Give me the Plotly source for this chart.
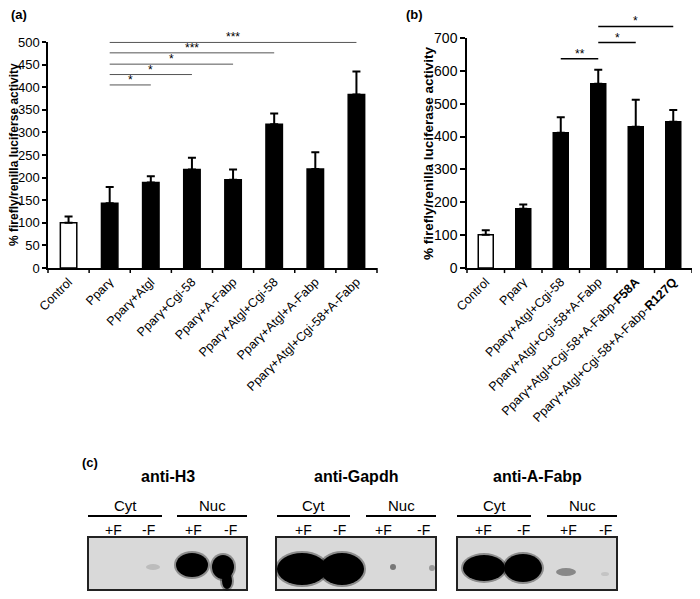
import plotly.graph_objects as go

# panel (a) data
cats_a = ["Control", "Pparγ", "Pparγ+Atgl", "Pparγ+Cgi-58", "Pparγ+A-Fabp",
          "Pparγ+Atgl+Cgi-58", "Pparγ+Atgl+A-Fabp", "Pparγ+Atgl+Cgi-58+A-Fabp"]
vals_a = [100, 143, 189, 218, 195, 318, 219, 384]
err_a = [14, 36, 14, 26, 23, 24, 37, 51]
sig_a = [(1, 2, 405, "*"), (1, 3, 428, "*"), (1, 4, 451, "*"),
         (1, 5, 476, "***"), (1, 7, 499, "***")]

# panel (b) data
cats_b = ["Control", "Pparγ", "Pparγ+Atgl+Cgi-58", "Pparγ+Atgl+Cgi-58+A-Fabp",
          "Pparγ+Atgl+Cgi-58+A-Fabp-<b>F58A</b>",
          "Pparγ+Atgl+Cgi-58+A-Fabp-<b>R127Q</b>"]
vals_b = [101, 180, 412, 561, 430, 445]
err_b = [14, 13, 47, 42, 82, 36]
sig_b = [(2, 3, 637, "**"), (3, 4, 686, "*"), (3, 5, 735, "*")]

# the page body has an 8px margin, so the figure is drawn 16px smaller
OFF = 8
W, H = 700 - 2 * OFF, 599 - 2 * OFF
FONT = "Arial, Liberation Sans, sans-serif"


def px(x):
    return min(1.0, max(0.0, (x - OFF) / W))


def py(y):
    return min(1.0, max(0.0, 1 - (y - OFF) / H))


def label(text, x, y, size, **kw):
    fig.add_annotation(text=text, xref="paper", yref="paper", x=px(x), y=py(y),
                       xanchor=kw.pop("xanchor", "center"), yanchor="middle",
                       showarrow=False, font=dict(family=FONT, size=size, color="black"),
                       **kw)


fig = go.Figure()

for cats, vals, errs, xa, ya in [(cats_a, vals_a, err_a, "x", "y"),
                                 (cats_b, vals_b, err_b, "x2", "y2")]:
    fig.add_trace(go.Bar(
        x=list(range(len(cats))), y=vals, xaxis=xa, yaxis=ya,
        marker=dict(color=["white"] + ["black"] * (len(cats) - 1),
                    line=dict(color="black", width=1.5)),
        error_y=dict(type="data", array=errs, arrayminus=[0] * len(cats),
                     symmetric=False, color="black", thickness=2, width=4),
        width=0.4, showlegend=False, hoverinfo="skip"))

axis_common = dict(showline=True, linecolor="black", linewidth=1.5,
                   ticks="outside", ticklen=5, tickwidth=1.5, tickcolor="black",
                   showgrid=False, zeroline=False, automargin=False,
                   tickfont=dict(family=FONT, size=14, color="black"))
xfont = dict(family=FONT, size=12.5, color="black")

fig.update_layout(
    width=W, height=H, margin=dict(l=0, r=0, t=0, b=0, autoexpand=False),
    plot_bgcolor="white", paper_bgcolor="white",
    font=dict(family=FONT, color="black"),
    xaxis=dict(axis_common, domain=[px(48), px(377)], range=[-0.5, 7.5],
               tickmode="array", tickvals=list(range(8)), ticktext=cats_a,
               tickangle=-45, tickfont=xfont, anchor="y", ticks=""),
    yaxis=dict(axis_common, domain=[py(268), py(42)], range=[0, 500], dtick=50,
               anchor="x", ticklen=4, tickfont=dict(family=FONT, size=13, color="black")),
    xaxis2=dict(axis_common, domain=[px(467), px(692)], range=[-0.5, 5.5],
                tickmode="array", tickvals=list(range(6)), ticktext=cats_b,
                tickangle=-45, tickfont=xfont, anchor="y2", ticks=""),
    yaxis2=dict(axis_common, domain=[py(268), py(38)], range=[0, 700], dtick=100,
                anchor="x2"),
)

# y-axis titles
label("<b>% firefly/renilla luciferse activity</b>", 14, 155, 12, textangle=-90)
label("<b>% firefly/renilla luciferase activity</b>", 428, 153, 13.5, textangle=-90)

# boundary tick marks between categories
for xa, ya, n in [("x", "y", 8), ("x2", "y2", 6)]:
    for i in range(n + 1):
        fig.add_shape(type="line", xref=xa + " domain", yref=ya + " domain",
                      x0=i / n, x1=i / n, y0=0, y1=-0.022,
                      line=dict(color="black", width=1.5))

# significance brackets
for sig, n, ymax, xa, ya, col, lw in [(sig_a, 8, 500, "x", "y", "#555", 1),
                                       (sig_b, 6, 700, "x2", "y2", "black", 1.5)]:
    for i0, i1, lvl, star in sig:
        x0 = (i0 + 0.5) / n
        x1 = (i1 + 0.5) / n
        yv = lvl / ymax
        fig.add_shape(type="line", xref=xa + " domain", yref=ya + " domain",
                      x0=x0, x1=x1, y0=yv, y1=yv, line=dict(color=col, width=lw))
        fig.add_annotation(text=star, xref=xa + " domain", yref=ya + " domain",
                           x=(x0 + x1) / 2, y=yv, xanchor="center", yanchor="bottom",
                           showarrow=False, yshift=-4,
                           font=dict(family=FONT, size=12, color="black"))

# panel letters
label("<b>(a)</b>", 9, 15, 13, xanchor="left")
label("<b>(b)</b>", 404, 15, 13, xanchor="left")
label("<b>(c)</b>", 80, 463, 13, xanchor="left")

# panel (c): blot layout
blots = [
    dict(title="anti-H3", box=(88, 247), cyt=(88, 162), nuc=(177, 247),
         lanes=[113, 148, 193, 230],
         bands=[(153, 567, 7, 3, "#bcbcbc"), (192, 565, 16, 12, "black"),
                (223, 567, 11, 12, "black"), (227, 581, 5, 8, "black")]),
    dict(title="anti-Gapdh", box=(276, 436), cyt=(277, 350), nuc=(366, 436),
         lanes=[303, 339, 383, 423],
         bands=[(302, 569, 25, 16, "black"), (342, 569, 22, 16, "black"),
                (393, 567, 3, 3, "#777"), (432, 568, 3, 3, "#999")]),
    dict(title="anti-A-Fabp", box=(457, 617), cyt=(457, 531), nuc=(547, 617),
         lanes=[483, 523, 568, 605],
         bands=[(484, 568, 21, 13, "black"), (523, 568, 19, 14, "black"),
                (566, 572, 10, 4, "#888"), (605, 574, 4, 2, "#c4c4c4")]),
]

for b in blots:
    x0, x1 = b["box"]
    label("<b>" + b["title"] + "</b>", (x0 + x1) / 2, 476, 16)
    for lbl, (l0, l1) in [("Cyt", b["cyt"]), ("Nuc", b["nuc"])]:
        label(lbl, (l0 + l1) / 2, 505, 15)
        fig.add_shape(type="line", xref="paper", yref="paper",
                      x0=px(l0), x1=px(l1), y0=py(516), y1=py(516),
                      line=dict(color="black", width=2))
    for lx, lbl in zip(b["lanes"], ["+F", "-F", "+F", "-F"]):
        label(lbl, lx, 530, 14)
    fig.add_shape(type="rect", xref="paper", yref="paper",
                  x0=px(x0), x1=px(x1), y0=py(590), y1=py(537),
                  fillcolor="#d9d9d9", line=dict(color="#222", width=2))
    for cx, cy, rx, ry, col in b["bands"]:
        if col == "black":
            fig.add_shape(type="circle", xref="paper", yref="paper",
                          x0=px(cx - rx - 2), x1=px(cx + rx + 2),
                          y0=py(cy + ry + 2), y1=py(cy - ry - 2),
                          fillcolor="black", opacity=0.35, line=dict(width=0))
        fig.add_shape(type="circle", xref="paper", yref="paper",
                      x0=px(cx - rx), x1=px(cx + rx), y0=py(cy + ry), y1=py(cy - ry),
                      fillcolor=col, line=dict(width=0))

fig.write_html("out.html")
